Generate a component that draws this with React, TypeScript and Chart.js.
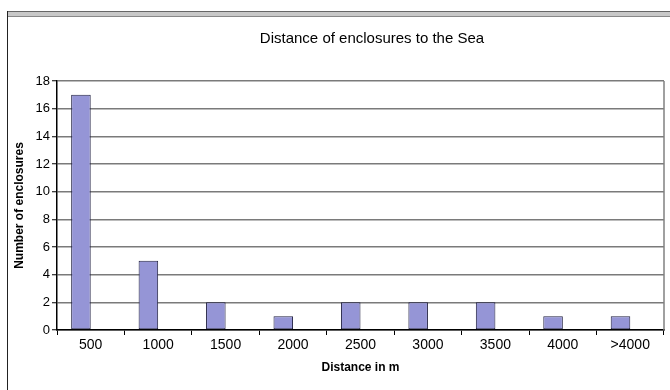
import { useEffect, useRef } from "react";
import { Chart, registerables } from "chart.js";

Chart.register(...registerables);

const chartTitle = "Distance of enclosures to the Sea";
const xAxisTitle = "Distance in m";
const yAxisTitle = "Number of enclosures";
const categories = ["500", "1000", "1500", "2000", "2500", "3000", "3500", "4000", ">4000"];
const enclosureCounts = [17, 5, 2, 1, 2, 2, 2, 1, 1];
const yMin = 0;
const yMax = 18;
const yStep = 2;

const FONT = "'Liberation Sans', Arial, sans-serif";

const framePlugin = {
  id: "frame",
  beforeDraw(chart: any) {
    const ctx = chart.ctx;
    ctx.save();
    ctx.fillStyle = "#ffffff";
    ctx.fillRect(0, 0, chart.width, chart.height);
    ctx.fillStyle = "#666666";
    ctx.fillRect(7, 11, chart.width - 7, 1);
    ctx.fillStyle = "#c8c8c8";
    ctx.fillRect(7, 12, chart.width - 7, 4);
    ctx.fillStyle = "#888888";
    ctx.fillRect(7, 16, chart.width - 7, 1);
    ctx.fillStyle = "#222222";
    ctx.fillRect(7, 11, 1, chart.height - 11);
    ctx.restore();
  },
  afterLayout(chart: any) {
    const t = chart.titleBlock;
    if (t) {
      t.left = 80;
    }
  },
  afterDatasetsDraw(chart: any) {
    const { ctx, chartArea } = chart;
    ctx.save();
    ctx.strokeStyle = "#808080";
    ctx.lineWidth = 1.5;
    ctx.beginPath();
    ctx.moveTo(chartArea.right, chartArea.top);
    ctx.lineTo(chartArea.right, chartArea.bottom);
    ctx.stroke();
    ctx.restore();
  },
};

export default function App() {
  const ref = useRef<HTMLCanvasElement | null>(null);

  useEffect(() => {
    if (!ref.current) return;
    const chart = new Chart(ref.current, {
      type: "bar",
      data: {
        labels: categories,
        datasets: [
          {
            label: yAxisTitle,
            data: enclosureCounts,
            backgroundColor: "#9595d6",
            borderColor: "#202040",
            borderWidth: 1,
            borderSkipped: false,
            categoryPercentage: 0.58,
            barPercentage: 1,
          },
          {
            label: "",
            data: [],
            categoryPercentage: 0.58,
            barPercentage: 1,
          },
        ],
      },
      options: {
        responsive: false,
        animation: false,
        devicePixelRatio: 1,
        layout: { padding: { left: 0, right: 6, top: 0, bottom: 0 } },
        plugins: {
          legend: { display: false },
          tooltip: { enabled: false },
          title: {
            display: true,
            text: chartTitle,
            color: "#000000",
            font: { family: FONT, size: 15, weight: "normal" },
            padding: { top: 30, bottom: 33 },
          },
        },
        scales: {
          x: {
            offset: true,
            grid: {
              offset: true,
              drawOnChartArea: false,
              drawTicks: true,
              tickLength: 5,
              tickColor: "#000000",
              tickWidth: 1,
            },
            border: { display: true, color: "#000000", width: 1.5 },
            ticks: {
              color: "#000000",
              font: { family: FONT, size: 14 },
              padding: 2,
              maxRotation: 0,
            },
            title: {
              display: true,
              text: xAxisTitle,
              color: "#000000",
              font: { family: FONT, size: 12, weight: "bold" },
              padding: { top: 0, bottom: 15 },
            },
            afterFit(scale: any) {
              scale.height = 60;
            },
          },
          y: {
            min: yMin,
            max: yMax,
            ticks: {
              stepSize: yStep,
              color: "#000000",
              font: { family: FONT, size: 13 },
              padding: 2,
            },
            grid: {
              color: "#7a7a7a",
              lineWidth: 1.5,
              tickLength: 5,
              tickColor: "#000000",
              tickWidth: 1,
            },
            border: { display: true, color: "#000000", width: 1.5 },
            title: {
              display: true,
              text: yAxisTitle,
              color: "#000000",
              font: { family: FONT, size: 12, weight: "bold" },
              padding: { top: 12, bottom: 0 },
            },
            afterFit(scale: any) {
              scale.width = 57;
            },
          },
        },
      },
      plugins: [framePlugin],
    });
    return () => chart.destroy();
  }, []);

  return (
    <div style={{ position: "fixed", left: 0, top: 0, width: 670, height: 390, background: "#fff" }}>
      <canvas ref={ref} width={670} height={390} style={{ display: "block" }} />
    </div>
  );
}
